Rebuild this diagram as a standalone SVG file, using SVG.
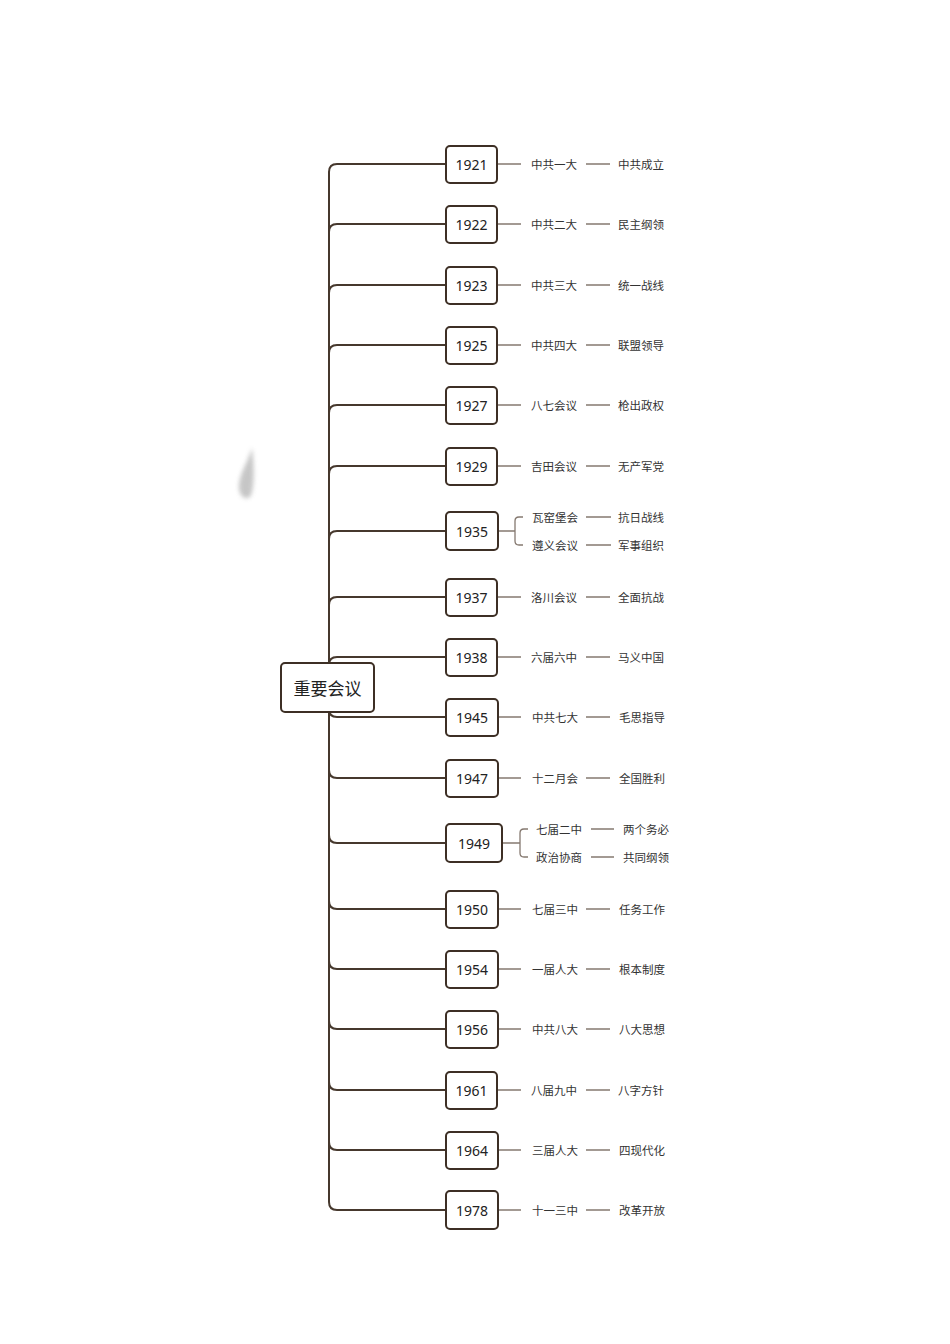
<svg xmlns="http://www.w3.org/2000/svg" width="950" height="1344" viewBox="0 0 950 1344">
<style>
.trunk{fill:none;stroke:#46382d;stroke-width:2}
.sub{fill:none;stroke:#857970;stroke-width:1.3}
.box{fill:#fff;stroke:#3d2f25;stroke-width:2}
.yr{font-family:"Noto Sans","DejaVu Sans",sans-serif;font-size:14px;fill:#222;text-anchor:middle}
.lb{font-family:"Noto Sans CJK SC","Noto Sans",sans-serif;font-size:11.5px;fill:#333}
.root{font-family:"Noto Sans CJK SC","Noto Sans",sans-serif;font-size:17px;fill:#222;text-anchor:middle}
</style>
<defs>
<filter id="blur" x="-50%" y="-50%" width="200%" height="200%"><feGaussianBlur stdDeviation="2"/></filter>
</defs>
<rect width="950" height="1344" fill="#fff"/>
<path d="M252,448 C248,462 240,472 239,485 C238,494 244,501 250,497 C254,492 255,470 252,448 Z" fill="#bdbdbd" filter="url(#blur)" opacity="0.85"/>
<g id="connectors">
<path class="trunk" d="M446,164 H337 Q329,164 329,172 V1202 Q329,1210 337,1210 H446"/>
<path class="trunk" d="M446,224 H337 Q329,224 329,232"/>
<path class="trunk" d="M446,285 H337 Q329,285 329,293"/>
<path class="trunk" d="M446,345 H337 Q329,345 329,353"/>
<path class="trunk" d="M446,405 H337 Q329,405 329,413"/>
<path class="trunk" d="M446,466 H337 Q329,466 329,474"/>
<path class="trunk" d="M446,531 H337 Q329,531 329,539"/>
<path class="trunk" d="M446,597 H337 Q329,597 329,605"/>
<path class="trunk" d="M446,657 H337 Q329,657 329,665"/>
<path class="trunk" d="M446,717 H337 Q329,717 329,709"/>
<path class="trunk" d="M446,778 H337 Q329,778 329,770"/>
<path class="trunk" d="M446,843 H337 Q329,843 329,835"/>
<path class="trunk" d="M446,909 H337 Q329,909 329,901"/>
<path class="trunk" d="M446,969 H337 Q329,969 329,961"/>
<path class="trunk" d="M446,1029 H337 Q329,1029 329,1021"/>
<path class="trunk" d="M446,1090 H337 Q329,1090 329,1082"/>
<path class="trunk" d="M446,1150 H337 Q329,1150 329,1142"/>
<g id="subs">
<path class="sub" d="M498,164 H521 M586,164 H610"/>
<path class="sub" d="M498,224 H521 M586,224 H610"/>
<path class="sub" d="M498,285 H521 M586,285 H610"/>
<path class="sub" d="M498,345 H521 M586,345 H610"/>
<path class="sub" d="M498,405 H521 M586,405 H610"/>
<path class="sub" d="M498,466 H521 M586,466 H610"/>
<path class="sub" d="M499,531 H515 M523,517 H519 Q515,517 515,521 V541 Q515,545 519,545 H523 M586,517 H611 M586,545 H611"/>
<path class="sub" d="M498,597 H521 M586,597 H610"/>
<path class="sub" d="M498,657 H521 M586,657 H610"/>
<path class="sub" d="M498,717 H521 M586,717 H610"/>
<path class="sub" d="M498,778 H521 M586,778 H610"/>
<path class="sub" d="M503,843 H520 M528,829 H524 Q520,829 520,833 V853 Q520,857 524,857 H528 M591,829 H614 M591,857 H614"/>
<path class="sub" d="M498,909 H521 M586,909 H610"/>
<path class="sub" d="M498,969 H521 M586,969 H610"/>
<path class="sub" d="M498,1029 H521 M586,1029 H610"/>
<path class="sub" d="M498,1090 H521 M586,1090 H610"/>
<path class="sub" d="M498,1150 H521 M586,1150 H610"/>
<path class="sub" d="M498,1210 H521 M586,1210 H610"/>
</g>
</g>
<g id="root"><rect class="box" x="281" y="663" width="93" height="49" rx="4"/><text class="root" x="327.5" y="694.5">重要会议</text></g>
<g id="n1921"><rect class="box" x="446" y="146" width="51" height="37" rx="4"/><text class="yr" x="471.5" y="170">1921</text><text class="lb" x="531" y="168.5">中共一大</text><text class="lb" x="618" y="168.5">中共成立</text></g>
<g id="n1922"><rect class="box" x="446" y="206" width="51" height="37" rx="4"/><text class="yr" x="471.5" y="230">1922</text><text class="lb" x="531" y="228.5">中共二大</text><text class="lb" x="618" y="228.5">民主纲领</text></g>
<g id="n1923"><rect class="box" x="446" y="267" width="51" height="37" rx="4"/><text class="yr" x="471.5" y="291">1923</text><text class="lb" x="531" y="289.5">中共三大</text><text class="lb" x="618" y="289.5">统一战线</text></g>
<g id="n1925"><rect class="box" x="446" y="327" width="51" height="37" rx="4"/><text class="yr" x="471.5" y="351">1925</text><text class="lb" x="531" y="349.5">中共四大</text><text class="lb" x="618" y="349.5">联盟领导</text></g>
<g id="n1927"><rect class="box" x="446" y="387" width="51" height="37" rx="4"/><text class="yr" x="471.5" y="411">1927</text><text class="lb" x="531" y="409.5">八七会议</text><text class="lb" x="618" y="409.5">枪出政权</text></g>
<g id="n1929"><rect class="box" x="446" y="448" width="51" height="37" rx="4"/><text class="yr" x="471.5" y="472">1929</text><text class="lb" x="531" y="470.5">吉田会议</text><text class="lb" x="618" y="470.5">无产军党</text></g>
<g id="n1935"><rect class="box" x="446" y="512" width="52" height="38" rx="4"/><text class="yr" x="472" y="537">1935</text><text class="lb" x="532" y="521.5">瓦窑堡会</text><text class="lb" x="618" y="521.5">抗日战线</text><text class="lb" x="532" y="549.5">遵义会议</text><text class="lb" x="618" y="549.5">军事组织</text></g>
<g id="n1937"><rect class="box" x="446" y="579" width="51" height="37" rx="4"/><text class="yr" x="471.5" y="603">1937</text><text class="lb" x="531" y="601.5">洛川会议</text><text class="lb" x="618" y="601.5">全面抗战</text></g>
<g id="n1938"><rect class="box" x="446" y="639" width="51" height="37" rx="4"/><text class="yr" x="471.5" y="663">1938</text><text class="lb" x="531" y="661.5">六届六中</text><text class="lb" x="618" y="661.5">马义中国</text></g>
<g id="n1945"><rect class="box" x="446" y="699" width="52" height="37" rx="4"/><text class="yr" x="472" y="723">1945</text><text class="lb" x="532" y="721.5">中共七大</text><text class="lb" x="619" y="721.5">毛思指导</text></g>
<g id="n1947"><rect class="box" x="446" y="760" width="52" height="37" rx="4"/><text class="yr" x="472" y="784">1947</text><text class="lb" x="532" y="782.5">十二月会</text><text class="lb" x="619" y="782.5">全国胜利</text></g>
<g id="n1949"><rect class="box" x="446" y="824" width="56" height="38" rx="4"/><text class="yr" x="474" y="849">1949</text><text class="lb" x="536" y="833.5">七届二中</text><text class="lb" x="623" y="833.5">两个务必</text><text class="lb" x="536" y="861.5">政治协商</text><text class="lb" x="623" y="861.5">共同纲领</text></g>
<g id="n1950"><rect class="box" x="446" y="891" width="52" height="37" rx="4"/><text class="yr" x="472" y="915">1950</text><text class="lb" x="532" y="913.5">七届三中</text><text class="lb" x="619" y="913.5">任务工作</text></g>
<g id="n1954"><rect class="box" x="446" y="951" width="52" height="37" rx="4"/><text class="yr" x="472" y="975">1954</text><text class="lb" x="532" y="973.5">一届人大</text><text class="lb" x="619" y="973.5">根本制度</text></g>
<g id="n1956"><rect class="box" x="446" y="1011" width="52" height="37" rx="4"/><text class="yr" x="472" y="1035">1956</text><text class="lb" x="532" y="1033.5">中共八大</text><text class="lb" x="619" y="1033.5">八大思想</text></g>
<g id="n1961"><rect class="box" x="446" y="1072" width="51" height="37" rx="4"/><text class="yr" x="471.5" y="1096">1961</text><text class="lb" x="531" y="1094.5">八届九中</text><text class="lb" x="618" y="1094.5">八字方针</text></g>
<g id="n1964"><rect class="box" x="446" y="1132" width="52" height="37" rx="4"/><text class="yr" x="472" y="1156">1964</text><text class="lb" x="532" y="1154.5">三届人大</text><text class="lb" x="619" y="1154.5">四现代化</text></g>
<g id="n1978"><rect class="box" x="446" y="1191" width="52" height="38" rx="4"/><text class="yr" x="472" y="1216">1978</text><text class="lb" x="532" y="1214.5">十一三中</text><text class="lb" x="619" y="1214.5">改革开放</text></g>
</svg>
